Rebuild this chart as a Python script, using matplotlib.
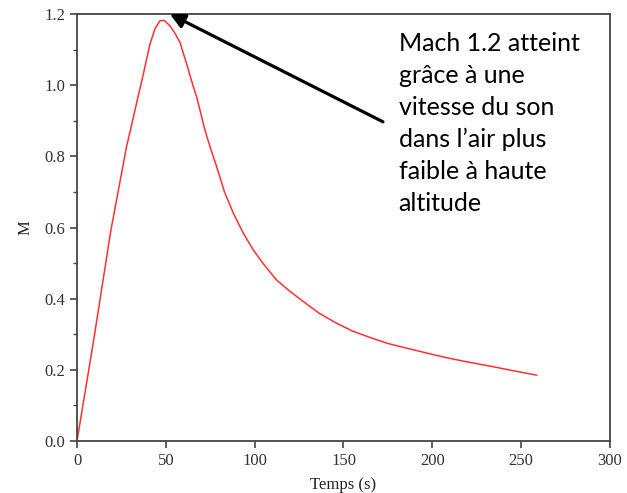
import matplotlib
matplotlib.use("Agg")
import matplotlib.pyplot as plt
from matplotlib.ticker import MultipleLocator

# Donnees
temps = [0, 9.4, 19.1, 28, 30, 34, 37.3, 39.4, 41.1, 44, 46.7, 49, 52.3, 55,
         58, 61.7, 64.5, 67.4, 72, 75, 78.6, 83, 88, 93.5, 99.2, 105, 112.4,
         120, 127.4, 136, 146.1, 155, 164.9, 175, 185.5, 197, 208, 220, 233,
         245, 258.7]
mach = [0, 0.284, 0.593, 0.83, 0.872, 0.96, 1.03, 1.078, 1.116, 1.16, 1.181,
        1.182, 1.167, 1.147, 1.12, 1.06, 1.012, 0.966, 0.874, 0.825, 0.771,
        0.70, 0.640, 0.585, 0.537, 0.497, 0.452, 0.420, 0.392, 0.36, 0.331,
        0.309, 0.291, 0.274, 0.261, 0.247, 0.234, 0.222, 0.210, 0.198, 0.185]

x_ticks = [0, 50, 100, 150, 200, 250, 300]
y_ticks = [0.0, 0.2, 0.4, 0.6, 0.8, 1.0, 1.2]

texte = "Mach 1.2 atteint\ngrâce à une\nvitesse du son\ndans l\u2019air plus\nfaible à haute\naltitude"

fig = plt.figure(figsize=(6.27, 4.93), dpi=100)
ax = fig.add_axes([77/627, 52/493, 533/627, 427/493])

ax.plot(temps, mach, color='#ff3030', linewidth=1.1)

ax.set_xlim(0, 300)
ax.set_ylim(0, 1.2)
ax.set_xticks(x_ticks)
ax.set_yticks(y_ticks)
ax.set_xticklabels([str(v) for v in x_ticks])
ax.set_yticklabels(["%.1f" % v for v in y_ticks])
ax.yaxis.set_minor_locator(MultipleLocator(0.1))

for s in ax.spines.values():
    s.set_color('#444444')
    s.set_linewidth(1.3)

ax.tick_params(axis='both', which='major', direction='out', length=5, width=1.2,
               color='#444444', labelsize=12, labelcolor='#333333')
ax.tick_params(axis='y', which='minor', direction='out', length=3, width=1.0, color='#444444')
for lab in ax.get_xticklabels() + ax.get_yticklabels():
    lab.set_family('Liberation Serif')

ax.set_xlabel('Temps (s)', family='Liberation Serif', fontsize=12, color='#222222', labelpad=6)
ax.set_ylabel('M', family='Liberation Serif', fontsize=12, color='#222222', labelpad=8)

# Fleche et texte
ax.annotate('', xy=(52.3, 1.2), xytext=(172.2, 0.897),
            arrowprops=dict(arrowstyle='-|>', color='black', lw=2.3,
                            mutation_scale=22, shrinkA=0, shrinkB=0),
            annotation_clip=False)
ax.text(181, 1.15, texte, family=['Lato', 'DejaVu Sans'], fontsize=18,
        va='top', ha='left', linespacing=1.47, color='black',
        bbox=dict(facecolor='white', edgecolor='none', pad=0))

fig.savefig('out.png', dpi=100)
